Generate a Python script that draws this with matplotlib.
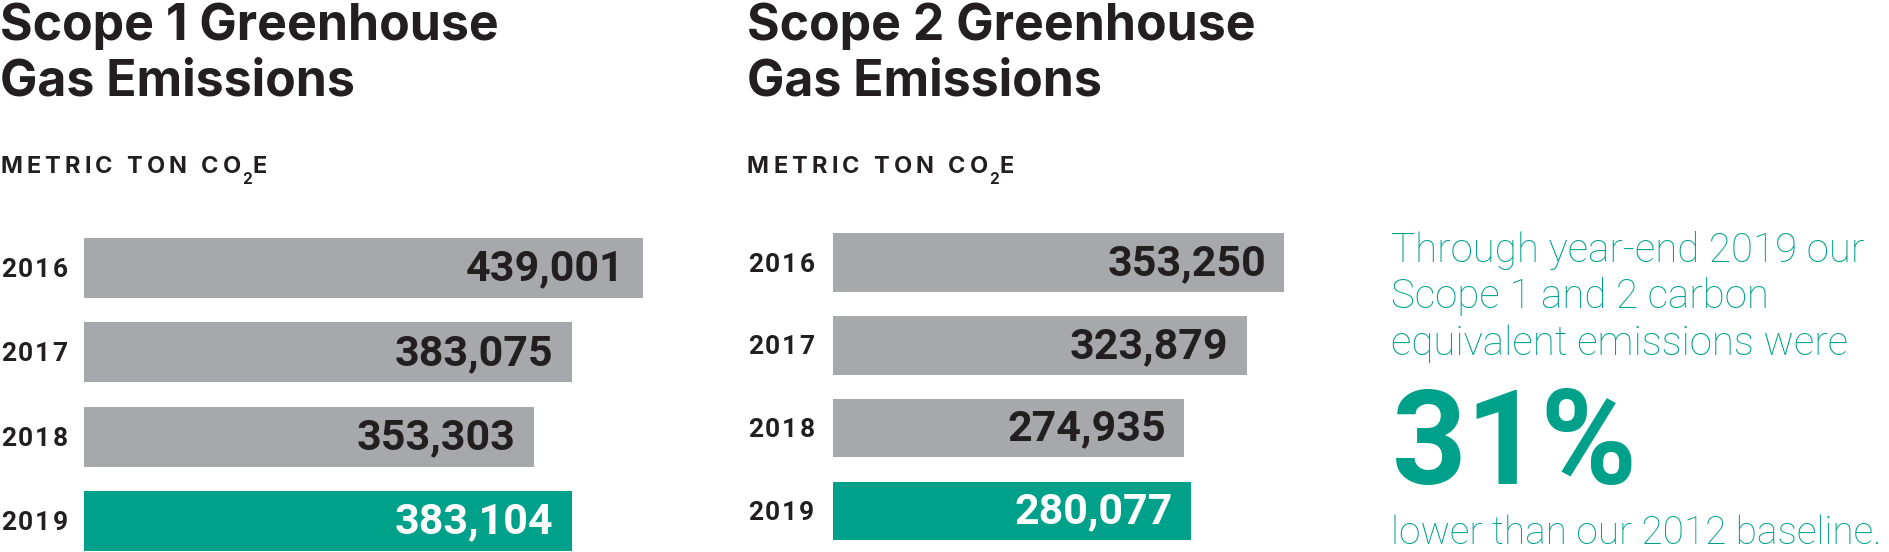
import matplotlib
matplotlib.use("Agg")
import matplotlib.pyplot as plt
import numpy as np

years = ["2016", "2017", "2018", "2019"]
scope1 = [439001, 383075, 353303, 383104]
scope2 = [353250, 323879, 274935, 280077]

GREY = "#a7a8ab"
GREEN = "#00a18a"
DARK = "#231f20"

W, H = 1889, 552
fig = plt.figure(figsize=(W / 100, H / 100), dpi=100)
fig.patch.set_facecolor("white")
renderer = fig.canvas.get_renderer()

TITLE_FONT = ["Inter", "DejaVu Sans"]
NUM_FONT = ["Roboto", "DejaVu Sans"]
BODY_FONT = ["Roboto", "DejaVu Sans"]


def fx(x):
    return x / W


def fy(y):
    return 1 - y / H


def spaced(x, y, s, size, gap, va="baseline", **kw):
    # draw text one char at a time to fake letter spacing
    for ch in s:
        t = fig.text(fx(x), y, ch, fontsize=size, va=va, ha="left", **kw)
        x += t.get_window_extent(renderer).width + gap
    return x


def panel(num, left, top, c0, step, vals, scale, title_x):
    # scale = pixels per 1000 tonnes
    width = 720
    ax = fig.add_axes([fx(left), fy(552), width / W, (552 - top) / H])
    ax.set_xlim(0, width / scale * 1000)
    ax.set_ylim((552 - c0) / step, -(c0 - top) / step)
    ypos = np.arange(len(vals))
    colors = [GREY] * (len(vals) - 1) + [GREEN]
    ax.barh(ypos, vals, height=0.71, color=colors, edgecolor="none")
    ax.axis("off")
    for i, v in enumerate(vals):
        c = "white" if i == len(vals) - 1 else DARK
        ax.annotate(f"{v:,}", (v, i), xytext=(-18, -1), textcoords="offset pixels",
                    ha="right", va="center", fontsize=31, color=c,
                    family=NUM_FONT, fontweight="bold")
        yy = fig.transFigure.inverted().transform(ax.transData.transform((0, i)))[1]
        spaced(title_x + 1, yy - 2 / H, years[i], 19, 2.0, va="center",
               color=DARK, family=NUM_FONT, fontweight="bold")

    fig.text(fx(title_x), fy(40), "Scope %d Greenhouse" % num,
             fontsize=36, fontweight="bold", family=TITLE_FONT, color=DARK, va="baseline")
    fig.text(fx(title_x), fy(96), "Gas Emissions",
             fontsize=36, fontweight="bold", family=TITLE_FONT, color=DARK, va="baseline")
    x = spaced(title_x, fy(173), "METRIC TON CO", 17, 4.2, family=TITLE_FONT,
               fontweight="bold", color=DARK)
    x = spaced(x - 3, fy(184), "2", 11, 1, family=TITLE_FONT, fontweight="bold", color=DARK)
    spaced(x, fy(173), "E", 17, 0, family=TITLE_FONT, fontweight="bold", color=DARK)
    return ax


panel(1, 84, 215, 268, 84.3, scope1, 1.273, 0)
panel(2, 833, 210, 262.5, 82.8, scope2, 1.277, 747)

para = ["Through year-end 2019 our", "Scope 1 and 2 carbon", "equivalent emissions were"]
for i, line in enumerate(para):
    fig.text(fx(1391), fy(262 + 46.5 * i), line, fontsize=29, color=GREEN,
             family=BODY_FONT, fontweight="light", va="baseline")
fig.text(fx(1392), fy(484), "31%", fontsize=94, family=NUM_FONT, fontweight="bold",
         color=GREEN, va="baseline")
fig.text(fx(1391), fy(544), "lower than our 2012 baseline.", fontsize=28, color=GREEN,
         family=BODY_FONT, fontweight="light", va="baseline")

fig.savefig("out.png", dpi=100, facecolor="white")
